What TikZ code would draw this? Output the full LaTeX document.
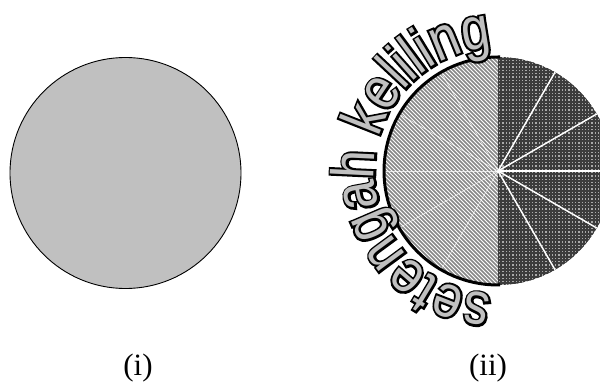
\documentclass[tikz,border=0pt]{standalone}
\usepackage{fontspec}
\setmainfont{Liberation Serif}
\newfontfamily\arcfontblack[FakeBold=7,FakeStretch=0.84]{Liberation Sans}
\newfontfamily\arcfontgray[FakeStretch=0.84]{Liberation Sans}
\usetikzlibrary{decorations.text}
\definecolor{diskgray}{RGB}{192,192,192}
\definecolor{hatchgray}{RGB}{135,135,135}
\definecolor{dotlight}{RGB}{170,170,170}
\definecolor{dotdark}{RGB}{60,60,60}
\tikzset{
  label text/.style={font=\fontsize{31}{35}\selectfont, inner sep=0pt, anchor=base},
}
\begin{document}
\begin{tikzpicture}[x=1pt,y=1pt]
\useasboundingbox (0,0) rectangle (600,383);
\clip (0,0) rectangle (600,383);
% (i) full disk
\coordinate (ci) at (125.5,210);
\draw[fill=diskgray, line width=0.9] (ci) circle[radius=115.5];
\node[label text] (labi) at (138,7.5) {(i)};
% (ii)
\coordinate (c) at (498,212);
\begin{scope}
  \clip (c) ++(90:114) arc[start angle=90,end angle=270,radius=114] -- cycle;
  \fill[white] ([shift={(-120,-120)}]c) rectangle ([shift={(0,120)}]c);
  \foreach \k in {-60,...,30} \draw[hatchgray, line width=1.6] ([shift={(\k*4-150,150)}]c) -- ++(300,-300);
\end{scope}
\begin{scope}
  \clip (c) ++(-90:114) arc[start angle=-90,end angle=90,radius=114] -- cycle;
  \fill[dotlight] ([shift={(0,-120)}]c) rectangle ([shift={(120,120)}]c);
  \foreach \k in {0,...,36} \draw[dotdark, line width=2] ([shift={(\k*3.3,-120)}]c) -- ++(0,240);
  \foreach \k in {-36,...,36} \draw[dotdark, line width=2] ([shift={(0,\k*3.3)}]c) -- ++(120,0);
\end{scope}
\foreach \a in {-60,-30,0,30,60} \draw[white, line width=1.5] (c) -- ++(\a:114);
\foreach \a in {120,150,180,210,240} \draw[white, line width=0.6, opacity=0.75] (c) -- ++(\a:113);
\draw[line width=3] ([shift={(2,0)}]c) ++(90:114) -- ++(-2,0) arc[start angle=90,end angle=270,radius=114] -- ++(2,0);
% curved text
\path[decorate, decoration={text along path, text color=black,
  text={|\arcfontblack\fontsize{60}{64}\selectfont|setengah keliling}}]
  (c) ++(-93:123.5) arc[start angle=-93, end angle=-300, radius=123.5];
\path[decorate, decoration={text along path, text color=diskgray,
  text={|\arcfontgray\fontsize{60}{64}\selectfont|setengah keliling}}]
  (c) ++(-93:123.5) arc[start angle=-93, end angle=-300, radius=123.5];
\node[label text] (labii) at (488,7.5) {(ii)};
\end{tikzpicture}
\end{document}
